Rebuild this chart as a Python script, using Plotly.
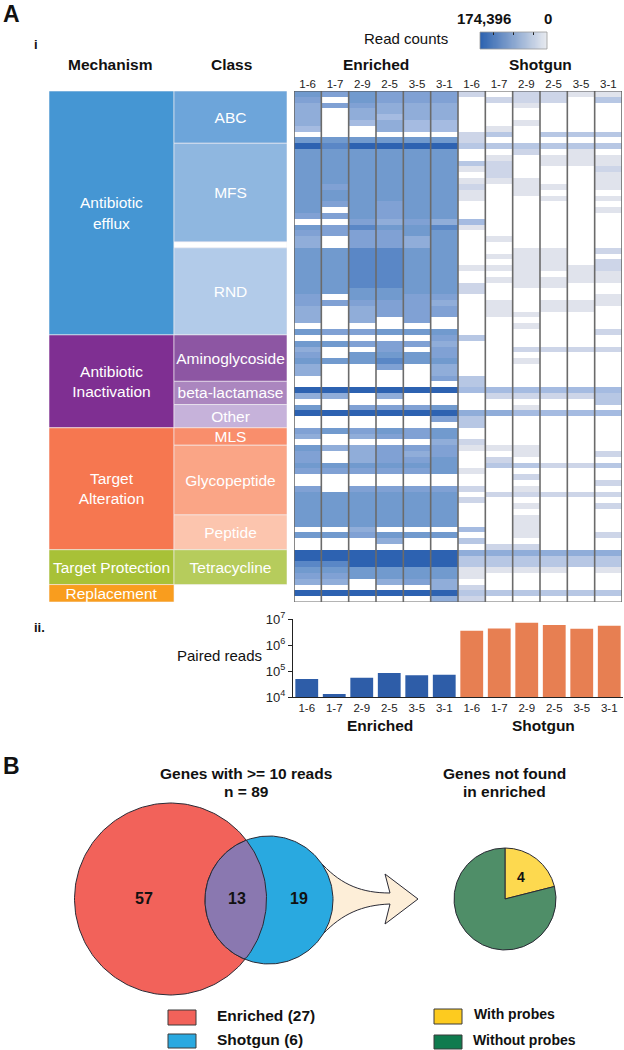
import numpy as np
import plotly.graph_objects as go

W, H = 624, 1050
FONT = "Liberation Sans"
NARROW = "Liberation Sans Narrow, Liberation Sans"

samples = ["1-6", "1-7", "2-9", "2-5", "3-5", "3-1"]

# estimated shade levels per gene row (0 = no reads, 9 = highest)
enriched_rows = [
    [7,6,7,6,6,6],[6,0,7,6,6,6],[5,6,6,5,5,5],[5,0,5,5,5,5],[5,0,5,4,5,5],[5,0,4,5,4,4],
    [4,0,0,5,4,4],[0,0,0,0,0,0],[7,7,7,7,7,7],[9,8,9,9,9,9],[7,7,7,7,7,7],[7,7,7,7,7,7],
    [7,7,7,7,7,7],[7,7,7,7,7,7],[7,7,7,7,7,7],[7,7,7,7,7,7],[7,6,7,7,7,7],[7,7,7,7,7,7],
    [7,7,7,7,7,7],[7,6,7,6,7,7],[7,0,7,6,7,7],[6,6,7,6,7,7],[0,0,6,5,6,5],[7,6,8,7,7,8],
    [6,6,6,6,7,7],[5,0,6,6,5,7],[5,0,6,6,5,7],[7,7,8,8,7,7],[7,7,8,8,7,7],[7,7,8,8,7,7],
    [7,7,8,8,7,7],[7,7,8,8,7,7],[7,7,8,8,7,7],[7,7,8,8,7,7],[7,7,7,7,7,7],[6,0,7,7,6,6],
    [6,6,6,6,6,5],[5,0,5,6,6,6],[5,0,5,6,6,6],[5,0,5,0,6,0],[0,0,0,0,0,0],[7,6,6,7,7,7],
    [0,0,0,0,0,6],[7,7,6,6,6,5],[5,0,0,6,0,6],[6,0,7,7,7,6],[7,7,7,8,7,7],[5,0,0,6,0,5],
    [5,0,0,0,0,5],[0,0,0,0,0,6],[0,0,0,0,0,0],[9,9,9,9,9,9],[5,5,0,5,0,0],[0,0,0,0,0,0],
    [7,0,6,6,6,7],[9,9,9,9,9,9],[0,0,0,0,0,6],[0,0,0,0,0,0],[6,7,6,7,6,7],[5,0,5,6,6,7],
    [0,0,0,0,0,5],[7,5,5,6,6,6],[6,0,5,6,5,6],[6,0,5,6,6,7],[7,7,7,7,7,7],[6,6,6,6,6,7],
    [0,0,0,0,0,0],[0,0,0,0,0,0],[6,0,6,6,6,6],[7,7,7,7,7,7],[7,7,7,7,7,7],[7,7,7,7,7,7],
    [7,7,7,7,7,7],[7,7,7,7,7,7],[7,7,7,7,7,7],[0,0,5,0,0,0],[7,7,6,7,7,7],[0,0,0,5,0,0],
    [0,0,0,0,0,0],[9,9,9,9,9,9],[9,9,9,9,9,9],[8,8,9,9,9,9],[7,7,7,7,7,7],[6,6,7,7,7,7],
    [5,5,0,5,6,5],[0,0,0,0,0,5],[9,9,9,9,9,9],[0,0,0,0,0,5],
]
shotgun_rows = [
    [2,0,2,2,1,1],[0,2,2,2,0,3],[0,0,1,0,0,0],[0,0,0,0,0,0],[0,0,0,0,0,0],[0,0,1,0,0,0],
    [0,1,0,0,0,0],[2,3,0,3,3,3],[2,0,0,0,0,0],[3,3,3,3,3,3],[0,0,2,0,1,0],[0,1,0,1,1,1],
    [3,2,0,1,1,1],[1,2,0,0,0,2],[0,2,0,0,0,1],[1,1,1,0,0,1],[2,0,1,1,0,1],[1,0,1,0,0,0],
    [1,0,0,1,0,1],[0,0,0,0,0,0],[0,0,0,0,0,1],[0,0,0,0,0,0],[4,0,0,0,0,0],[1,0,0,0,0,0],
    [0,0,0,0,0,0],[0,1,0,0,0,0],[0,0,0,0,0,0],[0,0,1,1,0,2],[0,1,1,1,0,0],[0,0,1,1,0,2],
    [1,1,1,1,1,2],[0,0,1,0,1,1],[0,1,1,1,1,1],[2,0,1,1,0,0],[2,0,0,0,0,0],[0,0,0,0,0,1],
    [0,1,0,1,1,1],[0,1,0,1,1,0],[0,1,1,0,0,0],[0,0,0,0,0,0],[0,0,1,0,0,0],[0,0,0,0,0,2],
    [3,0,0,0,0,0],[0,0,0,0,0,0],[0,0,2,2,2,2],[0,0,0,0,0,0],[0,0,1,0,0,0],[0,0,0,0,0,0],
    [0,0,0,0,0,0],[3,0,0,0,0,0],[3,0,0,0,0,0],[4,4,4,4,4,4],[0,2,2,2,2,3],[0,0,0,0,0,3],
    [0,0,1,0,0,0],[5,5,4,4,4,4],[3,0,0,0,0,0],[3,0,0,0,0,0],[0,0,0,0,0,0],[0,0,0,0,0,0],
    [2,0,0,0,0,0],[1,1,1,0,0,0],[0,0,1,0,0,2],[0,2,0,0,0,0],[0,3,3,2,2,3],[1,0,0,0,0,0],
    [0,0,2,0,0,0],[0,0,0,0,0,2],[2,0,1,0,0,0],[0,2,2,2,2,2],[2,0,0,0,0,0],[0,0,1,0,0,2],
    [0,0,0,0,0,0],[0,0,1,0,0,0],[0,0,1,0,0,0],[4,0,1,0,0,0],[0,0,1,0,0,2],[3,0,0,0,0,0],
    [0,2,2,0,0,0],[5,5,5,5,5,5],[3,3,3,3,3,3],[3,3,3,3,3,3],[1,1,1,1,0,1],[1,0,0,0,0,0],
    [0,0,0,0,0,0],[2,0,0,0,0,0],[3,3,3,3,3,3],[2,0,0,0,0,0],
]

mechanisms = ["Antibiotic<br>efflux", "Antibiotic<br>Inactivation", "Target<br>Alteration",
              "Target Protection", "Replacement"]
mechanism_rows = [42, 16, 21, 6, 3]
mechanism_colors = ["#4596d3", "#7f2f92", "#f67750", "#a8c137", "#f99d1e"]

classes = ["ABC", "MFS", " ", "RND", "Aminoglycoside", "beta-lactamase", "Other", "MLS",
           "Glycopeptide", "Peptide", "Tetracycline"]
class_rows = [9, 17, 1, 15, 8, 4, 4, 3, 12, 6, 6]
class_colors = ["#6da5da", "#8fb7e0", "#ffffff", "#b2cbe9", "#8d56a3", "#ab86bf", "#c6b2da",
                "#f98e6c", "#faa586", "#fcc5ae", "#b6cc5c"]

paired_enriched = [4.9e4, 1.3e4, 5.5e4, 8.4e4, 6.8e4, 7.2e4]
paired_shotgun = [3.55e6, 4.3e6, 7.2e6, 5.9e6, 4.2e6, 5.5e6]

pie_labels = ["With probes", "Without probes"]
pie_values = [4, 15]
venn_counts = [57, 13, 19]

HEAT_SCALE = [[0.0, "#ffffff"], [1/9, "#e0e3ec"], [2/9, "#cdd5e8"], [3/9, "#b7c7e4"],
              [4/9, "#a5bbe1"], [5/9, "#90add9"], [6/9, "#80a1d4"], [7/9, "#719ace"],
              [8/9, "#5a87c6"], [1.0, "#2d62b1"]]


def px(x):
    return x / W


def py(y):
    return 1 - y / H


def xdom(a, b):
    return [px(a), px(b)]


def ydom(top, bottom):
    return [py(bottom), py(top)]


fig = go.Figure()
heat_z = [e + s for e, s in zip(enriched_rows, shotgun_rows)]
positions = list(range(12))

# heatmap
fig.add_trace(go.Heatmap(z=heat_z, x=positions, y=list(range(len(heat_z))), xaxis="x2", yaxis="y2",
                         colorscale=HEAT_SCALE, zmin=0, zmax=9, showscale=False))


# mechanism / class stacks
def stack(labels, rows, colors, left, width, size):
    rows_a = np.array(rows)
    fig.add_trace(go.Bar(
        x=[left + width / 2] * len(rows), y=rows, base=np.r_[0, np.cumsum(rows_a)[:-1]],
        width=width, marker=dict(color=colors, line=dict(width=0.6, color="#f4f0f4")),
        text=labels, textposition="inside", insidetextanchor="middle", textangle=0,
        constraintext="none", textfont=dict(color="white", size=size, family=FONT),
        xaxis="x3", yaxis="y3", showlegend=False, hoverinfo="skip"))


stack(mechanisms, mechanism_rows, mechanism_colors, 0, 125, 15.5)
stack(classes, class_rows, class_colors, 125, 113, 15.5)

# paired reads
fig.add_trace(go.Bar(x=positions[:6], y=paired_enriched, marker_color="#2e5da8", width=0.83,
                     marker_line_width=0, xaxis="x4", yaxis="y4", showlegend=False))
fig.add_trace(go.Bar(x=positions[6:], y=paired_shotgun, marker_color="#e77f52", width=0.83,
                     marker_line_width=0, xaxis="x4", yaxis="y4", showlegend=False))

# read-count gradient key
fig.add_trace(go.Heatmap(z=[np.linspace(1, 0, 60).tolist()], xaxis="x5", yaxis="y5", zsmooth="best",
                         colorscale=[[0, "#e9ebf0"], [1, "#2d63b0"]], showscale=False, hoverinfo="skip"))


# Venn (drawn from circle geometry)
def circle(cx, cy, r):
    t = np.linspace(0, 2 * np.pi, 240)
    return cx + r * np.cos(t), cy + r * np.sin(t)


cE = (170.5, 899.0, 96.0)
cS = (269.0, 900.0, 64.0)
ex, ey = circle(*cE)
sx, sy = circle(*cS)
inside_s = (ex - cS[0])**2 + (ey - cS[1])**2 <= cS[2]**2
inside_e = (sx - cE[0])**2 + (sy - cE[1])**2 <= cE[2]**2
e_pts = np.c_[ex[inside_s], ey[inside_s]]
e_pts = e_pts[np.argsort(np.arctan2(e_pts[:, 1] - cE[1], e_pts[:, 0] - cE[0]))]
s_pts = np.c_[sx[inside_e], sy[inside_e]]
s_ang = np.mod(np.arctan2(s_pts[:, 1] - cS[1], s_pts[:, 0] - cS[0]), 2 * np.pi)
s_pts = s_pts[np.argsort(s_ang)]
lens = np.r_[e_pts, s_pts, e_pts[:1]]

line_dark = dict(color="#2a2a35", width=1)
for xs, ys, fill in [(ex, ey, "#f2625a"), (sx, sy, "#29a9e0"), (lens[:, 0], lens[:, 1], "#8a78b0")]:
    fig.add_trace(go.Scatter(x=xs, y=ys, mode="lines", fill="toself", fillcolor=fill, line=line_dark,
                             xaxis="x", yaxis="y", showlegend=False, hoverinfo="skip"))

# pie
fig.add_trace(go.Pie(labels=pie_labels, values=pie_values, sort=False, direction="clockwise", rotation=0,
                     textinfo="none", showlegend=False, marker=dict(colors=["#fdd94f", "#4f8e68"],
                     line=dict(color="#2a2a35", width=1)),
                     domain=dict(x=xdom(454, 556), y=ydom(848, 950))))

shapes = []
# arrow from the shotgun circle to the pie
shapes.append(dict(type="path", xref="x", yref="y", layer="below",
                   path="M 300 850 L 323 865 C 342 885 362 893 390 893 L 385 874 L 418 899 L 385 924 "
                        "L 390 904 C 362 905 342 914 323 934 L 300 945 Z",
                   fillcolor="#fdeed8", line=dict(color="#2a2a35", width=1)))
# heatmap column separators and frame
for b in np.arange(-0.5, 12, 1):
    shapes.append(dict(type="line", xref="x2", yref="y2", x0=b, x1=b, y0=-0.5, y1=len(heat_z) - 0.5,
                       line=dict(color="#6b6b6b", width=1.6)))
for yy, c in [(-0.5, "#555555"), (len(heat_z) - 0.5, "#6b6b6b")]:
    shapes.append(dict(type="line", xref="x2", yref="y2", x0=-0.5, x1=11.5, y0=yy, y1=yy,
                       line=dict(color=c, width=1.2)))
# gradient key outline
shapes.append(dict(type="rect", xref="x", yref="y", x0=480, x1=547, y0=32, y1=49,
                   line=dict(color="#9a9a9a", width=0.8)))
# legend swatches
for x0, y0, x1, y1, c in [(168, 1010, 196, 1025, "#f2625a"), (168, 1034, 196, 1048, "#29a9e0"),
                          (434, 1009, 462, 1024, "#fdcb1f"), (434, 1035, 462, 1049, "#0f7b4e")]:
    shapes.append(dict(type="rect", xref="x", yref="y", x0=x0, x1=x1, y0=y0, y1=y1, fillcolor=c,
                       line=dict(color="#3a3a3a", width=1)))


def label(x, y, text, size=13, bold=False, color="#111111", family=FONT, anchor="center"):
    txt = f"<b>{text}</b>" if bold else text
    return dict(xref="x", yref="y", x=x, y=y, text=txt, showarrow=False, xanchor=anchor,
                yanchor="middle", font=dict(size=size, color=color, family=family))


annotations = [
    label(1, 14, "A", 23, True, anchor="left"),
    label(32, 44, "i", 13, True, anchor="left"),
    label(110, 64, "Mechanism", 15.5, True),
    label(231, 64, "Class", 15.5, True),
    label(376, 64, "Enriched", 15.5, True),
    label(540, 64, "Shotgun", 15.5, True),
    label(406, 38, "Read counts", 15),
    label(484, 18, "174,396", 15, True),
    label(548, 18, "0", 15, True),
    label(32, 627, "ii.", 13, True, anchor="left"),
    label(219, 655, "Paired reads", 15),
    label(380, 725, "Enriched", 15.5, True),
    label(543, 725, "Shotgun", 15.5, True),
    label(1, 766, "B", 23, True, anchor="left"),
    label(246, 773, "Genes with &gt;= 10 reads", 15.5, True, family=NARROW),
    label(246, 791, "n = 89", 15.5, True, family=NARROW),
    label(504, 773, "Genes not found", 15.5, True, family=NARROW),
    label(504, 791, "in enriched", 15.5, True, family=NARROW),
    label(144, 898, str(venn_counts[0]), 16, True, family=NARROW),
    label(237, 898, str(venn_counts[1]), 16, True, family=NARROW),
    label(299, 898, str(venn_counts[2]), 16, True, family=NARROW),
    label(521, 877, str(pie_values[0]), 14, True, family=NARROW),
    label(215, 1015, "Enriched (27)", 15.5, True, family=NARROW, anchor="left"),
    label(215, 1039, "Shotgun (6)", 15.5, True, family=NARROW, anchor="left"),
    label(472, 1014, "With probes", 14, True, family=NARROW, anchor="left"),
    label(471, 1040, "Without probes", 14, True, family=NARROW, anchor="left"),
]

hidden = dict(visible=False, fixedrange=True)
fig.update_layout(
    width=W, height=H, margin=dict(l=0, r=0, t=0, b=0, autoexpand=False), paper_bgcolor="white",
    plot_bgcolor="rgba(0,0,0,0)",
    barmode="overlay", font=dict(family=FONT, color="#111111"), showlegend=False,
    shapes=shapes, annotations=annotations,
    xaxis=dict(domain=[0, 1], range=[0, W], anchor="y", **hidden),
    yaxis=dict(domain=[0, 1], range=[H, 0], anchor="x", **hidden),
    xaxis2=dict(domain=xdom(294, 622), range=[-0.5, 11.5], anchor="y2", side="top", tickmode="array",
                tickvals=positions, ticktext=samples * 2, ticks="", showgrid=False, zeroline=False,
                showline=False, tickfont=dict(size=11.5, color="#222222"), tickangle=0),
    yaxis2=dict(domain=ydom(91, 602), range=[len(heat_z) - 0.5, -0.5], anchor="x2", **hidden),
    xaxis3=dict(domain=xdom(49, 287), range=[0, 238], anchor="y3", **hidden),
    yaxis3=dict(domain=ydom(91, 602), range=[88, 0], anchor="x3", **hidden),
    xaxis4=dict(domain=xdom(293, 623), range=[-0.5, 11.5], anchor="y4", tickmode="array", tickvals=positions,
                ticktext=samples * 2, ticks="", showgrid=False, zeroline=False, showline=True,
                linecolor="#222222", linewidth=1, tickfont=dict(size=11.5, color="#222222"), tickangle=0),
    yaxis4=dict(domain=ydom(619, 697), type="log", range=[4, 7], anchor="x4", tickmode="array",
                tickvals=[1e4, 1e5, 1e6, 1e7],
                ticktext=["10<sup>4</sup>", "10<sup>5</sup>", "10<sup>6</sup>", "10<sup>7</sup>"],
                ticks="outside", ticklen=4, tickcolor="#222222", showgrid=False, zeroline=False, showline=True,
                linecolor="#222222", linewidth=1, tickfont=dict(size=13, color="#222222")),
    xaxis5=dict(domain=xdom(480, 547), range=[-0.5, 59.5], anchor="y5", side="top", tickmode="array",
                tickvals=[12, 29.5, 47], ticks="inside", ticklen=3, tickcolor="#222222",
                showticklabels=False, showgrid=False, zeroline=False, showline=False, fixedrange=True),
    yaxis5=dict(domain=ydom(32, 49), range=[-0.5, 0.5], anchor="x5", **hidden),
)

fig.write_html("out.html", config={"displayModeBar": False},
               post_script="document.body.style.margin='0';")
